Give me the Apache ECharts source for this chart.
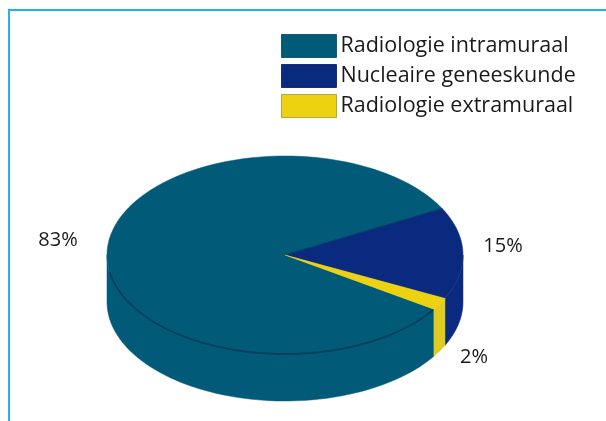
<!DOCTYPE html>
<html>
<head>
<meta charset="utf-8">
<style>html,body{margin:0;padding:0;background:#fff}#c{width:606px;height:421px}</style>
<script src="https://cdn.jsdelivr.net/npm/echarts@6/dist/echarts.min.js"></script>
</head>
<body>
<div id="c"></div>
<script>
const categories = ['Radiologie intramuraal', 'Nucleaire geneeskunde', 'Radiologie extramuraal'];
const shares = [83, 15, 2];
const percentLabels = ['83%', '15%', '2%'];
const colors = ['#005a78', '#0a2a80', '#ecd210'];
const wallColors = ['#005a78', '#0a2a80', '#e0cc20'];
const edgeColors = ['#0a6070', '#1a2f78', '#b5a648'];

// pie layout
const cx = 285, cy = 255, rx = 178, ry = 99, depth = 47;
const firstSliceStart = 33.2;
const labelPlaces = [[58, 240], [503, 246], [474, 357]];

const total = shares.reduce((a, b) => a + b, 0);
const ranges = [];
shares.reduce((start, v) => {
  const end = start + v / total * 360;
  ranges.push([start, end]);
  return end;
}, firstSliceStart);

function arcPoints(a0, a1, dy) {
  const pts = [], n = Math.max(2, Math.ceil(Math.abs(a1 - a0) / 2));
  for (let i = 0; i <= n; i++) {
    const t = (a0 + (a1 - a0) * i / n) * Math.PI / 180;
    pts.push([cx + rx * Math.cos(t), cy + ry * Math.sin(t) + dy]);
  }
  return pts;
}

function frontRanges(a0, a1) {
  const out = [];
  [[-360, -180], [0, 180], [360, 540]].forEach(r => {
    const s = Math.max(a0, r[0]), e = Math.min(a1, r[1]);
    if (e > s) out.push([s, e]);
  });
  return out;
}

function makeRender(idx) {
  return function () {
    const [a0, a1] = ranges[idx];
    const children = [];
    frontRanges(a0, a1).forEach(([s, e]) => {
      const pts = arcPoints(s, e, 0).concat(arcPoints(e, s, depth));
      children.push({
        type: 'polygon', shape: { points: pts },
        style: { fill: wallColors[idx], stroke: wallColors[idx], lineWidth: 0.5 }
      });
    });
    const rim = arcPoints(a0, a1, 0);
    children.push({
      type: 'polygon',
      shape: { points: [[cx, cy]].concat(rim) },
      style: { fill: colors[idx], stroke: colors[idx], lineWidth: 0.5 }
    });
    if (idx === 0) {
      children.push({
        type: 'polyline',
        shape: { points: arcPoints(a0, 170, 0) },
        style: { fill: 'none', stroke: '#033f5c', lineWidth: 1.8 }
      });
    }
    if (idx === 1) {
      children.push({
        type: 'polyline',
        shape: { points: [rim[0], [cx, cy]] },
        style: { fill: 'none', stroke: '#07405f', lineWidth: 1 }
      });
    }
    children.push({
      type: 'text',
      style: {
        x: labelPlaces[idx][0], y: labelPlaces[idx][1],
        text: percentLabels[idx], fill: '#1a1a1a',
        font: '20px "Open Sans"', align: 'center', verticalAlign: 'middle'
      }
    });
    return { type: 'group', children };
  };
}

const chart = echarts.init(document.getElementById('c'), null, { renderer: 'canvas' });
chart.setOption({
  animation: false,
  backgroundColor: '#ffffff',
  legend: {
    left: 281, top: 34, orient: 'vertical',
    itemWidth: 55, itemHeight: 23, itemGap: 6, padding: 0,
    icon: 'rect',
    textStyle: { fontFamily: 'Open Sans', fontSize: 21.5, lineHeight: 23, color: '#1a1a1a', padding: [0, 0, 0, -1] },
    data: categories.map((name, i) => ({
      name,
      itemStyle: { color: colors[i], borderColor: edgeColors[i], borderWidth: 1 }
    }))
  },
  series: categories.map((name, i) => ({
    type: 'custom',
    name,
    coordinateSystem: 'none',
    itemStyle: { color: colors[i] },
    renderItem: makeRender(i),
    data: [shares[i]],
    z: i === 2 ? 3 : 2
  })),
  graphic: [{
    type: 'polyline',
    shape: { points: [[9, 421], [9, 10], [606, 10]] },
    style: { fill: 'none', stroke: '#1fb4ee', lineWidth: 2 },
    silent: true
  }]
});
</script>
</body>
</html>
